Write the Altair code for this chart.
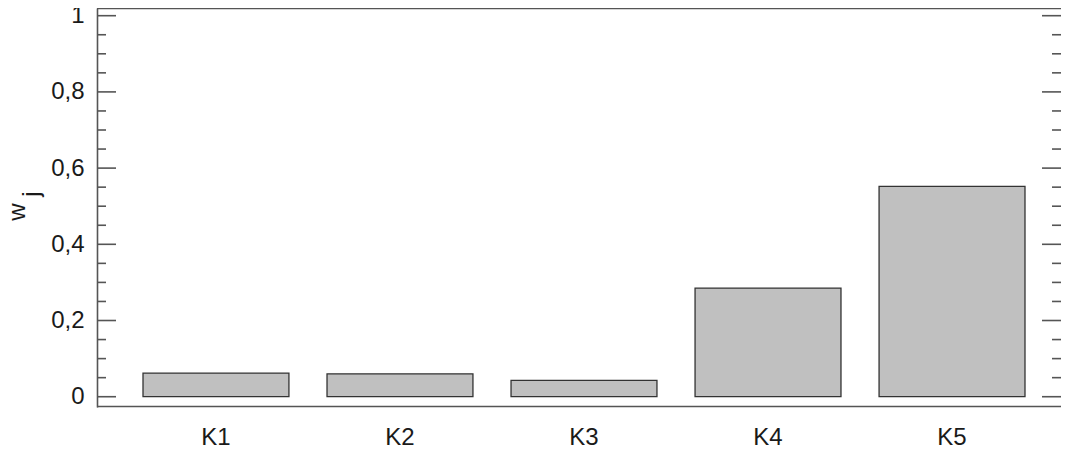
import altair as alt
import pandas as pd

categories = ["K1", "K2", "K3", "K4", "K5"]
weights = [0.062, 0.060, 0.043, 0.285, 0.552]
major_ticks = [0, 0.2, 0.4, 0.6, 0.8, 1.0]
minor_ticks = [0.05, 0.1, 0.15, 0.25, 0.3, 0.35, 0.45, 0.5, 0.55, 0.65, 0.7, 0.75,
               0.85, 0.9, 0.95]

W, H = 964, 399
XRANGE = 974
FONT = "Liberation Sans"
FS = 24
AX = "#555555"
YDOM = [-0.027, 1.0202]

bars_df = pd.DataFrame({"k": categories, "w": weights})
major_df = pd.DataFrame({"v": major_ticks})
minor_df = pd.DataFrame({"v": minor_ticks})

yscale = alt.Scale(domain=YDOM, nice=False, zero=False)
yaxis = alt.Axis(title=None, values=major_ticks, ticks=False, tickSize=0,
                 grid=False, domain=True, domainColor=AX, domainWidth=1.6,
                 labelFont=FONT, labelFontSize=FS, labelColor="#1a1a1a",
                 labelPadding=13,
                 labelExpr="replace(format(datum.value, '.1~f'), '.', ',')")

bars = alt.Chart(bars_df).mark_bar(
    fill="#c0c0c0", stroke="#333333", strokeWidth=1.3
).encode(
    x=alt.X("k:N", sort=categories,
            scale=alt.Scale(paddingInner=0.207, paddingOuter=0.25, range=[0, XRANGE]),
            axis=alt.Axis(title=None, labelAngle=0, ticks=False, tickSize=0,
                          domain=False,
                          labelFont=FONT, labelFontSize=FS, labelColor="#1a1a1a",
                          labelPadding=18)),
    y=alt.Y("w:Q", scale=yscale, axis=yaxis),
)

def tick_layer(df, x0, x1):
    return alt.Chart(df).mark_rule(color=AX, strokeWidth=1.6).encode(
        y=alt.Y("v:Q", scale=yscale, axis=yaxis),
        x=alt.value(x0), x2=alt.value(x1),
    )

ticks = [
    tick_layer(major_df, 0, 19),
    tick_layer(minor_df, 0, 9),
    tick_layer(major_df, W - 19, W),
    tick_layer(minor_df, W - 9, W),
]

def hline(ypix):
    return alt.Chart(bars_df.head(1)).mark_rule(color=AX, strokeWidth=1.6).encode(
        y=alt.value(ypix), x=alt.value(0), x2=alt.value(W)
    )

title_w = alt.Chart(pd.DataFrame({"t": ["w"]})).mark_text(
    font=FONT, fontSize=FS, angle=270, align="center", baseline="alphabetic",
    color="#1a1a1a"
).encode(text="t:N", x=alt.value(-72), y=alt.value(204))

title_j = alt.Chart(pd.DataFrame({"t": ["j"]})).mark_text(
    font=FONT, fontSize=FS, angle=270, align="center", baseline="alphabetic",
    color="#1a1a1a"
).encode(text="t:N", x=alt.value(-58), y=alt.value(186))

chart = alt.layer(bars, *ticks, hline(0.5), hline(H - 0.5), title_w, title_j).properties(
    width=W, height=H,
    autosize=alt.AutoSizeParams(type="none"),
    padding={"left": 89, "top": 0, "right": 0, "bottom": 43},
).configure_view(stroke=None)

chart.save("out.html", embed_options={"renderer": "svg", "actions": False})
